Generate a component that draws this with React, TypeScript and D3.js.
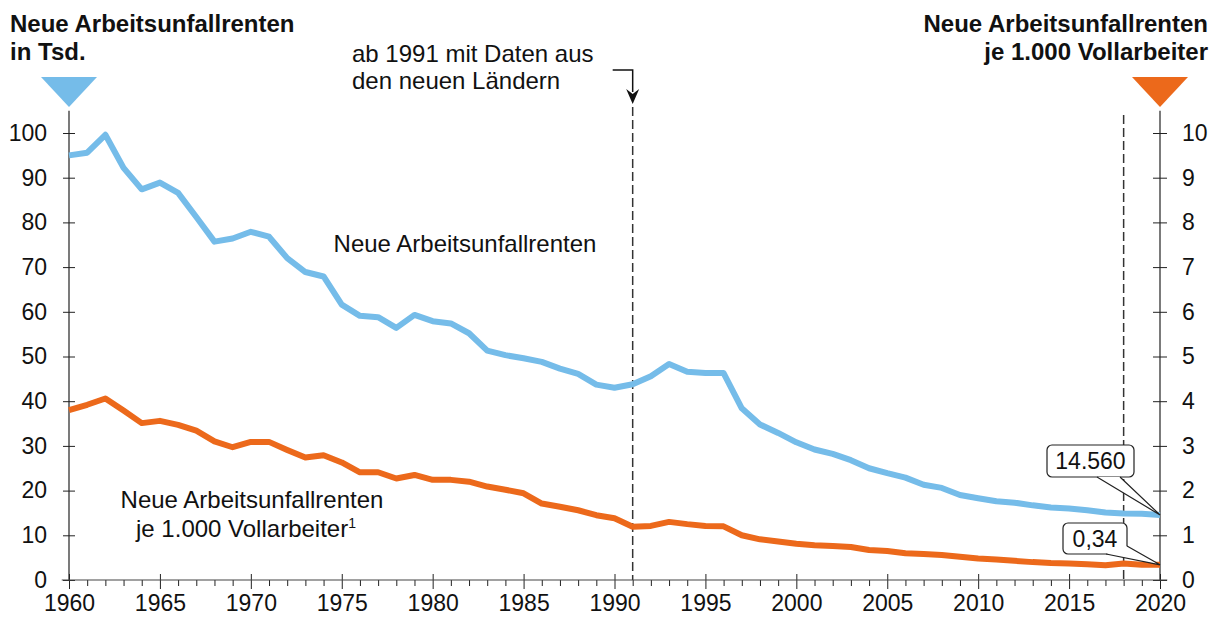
import React, { useEffect, useRef } from 'react';
import * as d3 from 'd3';

// years 1960..2020
const years = d3.range(1960, 2021);

// Neue Arbeitsunfallrenten in Tsd.
const renten = [
  95.0, 95.6, 99.6, 92.2, 87.4, 88.9, 86.6, 81.2, 75.7, 76.4,
  77.9, 76.8, 72.0, 68.9, 67.9, 61.6, 59.1, 58.8, 56.4, 59.3,
  57.9, 57.4, 55.2, 51.3, 50.3, 49.6, 48.8, 47.3, 46.1, 43.7,
  43.0, 43.8, 45.6, 48.3, 46.6, 46.3, 46.3, 38.4, 34.8, 32.9,
  30.8, 29.2, 28.2, 26.8, 25.0, 23.9, 22.9, 21.3, 20.6, 19.0,
  18.3, 17.6, 17.3, 16.7, 16.2, 16.0, 15.6, 15.1, 14.9, 14.8,
  14.56,
];

// Neue Arbeitsunfallrenten je 1.000 Vollarbeiter
const jeTausend = [
  3.80, 3.92, 4.06, 3.79, 3.51, 3.56, 3.47, 3.34, 3.10, 2.97,
  3.09, 3.09, 2.91, 2.74, 2.79, 2.63, 2.41, 2.41, 2.27, 2.35,
  2.24, 2.24, 2.20, 2.09, 2.02, 1.94, 1.71, 1.64, 1.56, 1.45,
  1.38, 1.19, 1.21, 1.30, 1.25, 1.21, 1.20, 1.00, 0.91, 0.86,
  0.81, 0.78, 0.76, 0.74, 0.67, 0.65, 0.60, 0.58, 0.56, 0.52,
  0.48, 0.46, 0.43, 0.40, 0.38, 0.37, 0.35, 0.33, 0.37, 0.34,
  0.34,
];

const leftTicks = [0, 10, 20, 30, 40, 50, 60, 70, 80, 90, 100];
const rightTicks = [0, 1, 2, 3, 4, 5, 6, 7, 8, 9, 10];
const yearLabels = [1960, 1965, 1970, 1975, 1980, 1985, 1990, 1995, 2000, 2005, 2010, 2015, 2020];
const dashedYears = [1991, 2018];

const BLUE = '#75bce9';
const ORANGE = '#ec691b';
const FONT = '"Liberation Sans", Arial, sans-serif';

const App = () => {
  const svgRef = useRef<SVGSVGElement | null>(null);

  useEffect(() => {
    document.body.style.margin = '0';
    const svg = d3.select(svgRef.current);
    svg.selectAll('*').remove();

    const x = d3.scaleLinear().domain([1960, 2020]).range([69, 1160]);
    const yL = d3.scaleLinear().domain([0, 100]).range([580, 133]);
    const yR = d3.scaleLinear().domain([0, 10]).range([580, 133]);

    const g = svg.append('g').style('font-family', FONT);

    // dashed marker lines
    g.selectAll('.dash')
      .data(dashedYears)
      .join('line')
      .attr('x1', d => x(d))
      .attr('x2', d => x(d))
      .attr('y1', (d, i) => (i === 0 ? 107 : 115))
      .attr('y2', yL(0))
      .attr('stroke', '#333')
      .attr('stroke-width', 1.5)
      .attr('stroke-dasharray', '9,4');

    // left axis
    const left = g.append('g')
      .attr('transform', `translate(${x(1960)},0)`)
      .call(d3.axisLeft(yL).tickValues(leftTicks).tickSize(6).tickPadding(16));
    left.select('.domain').remove();
    left.selectAll('.tick line').attr('x1', -6).attr('x2', 6).attr('stroke', '#222');
    left.selectAll('.tick text').style('font-size', '23px').style('font-family', FONT).attr('fill', '#111');
    left.append('line').attr('y1', yL(105)).attr('y2', yL(0)).attr('stroke', '#222').attr('stroke-width', 1.2);

    // right axis
    const right = g.append('g')
      .attr('transform', `translate(${x(2020)},0)`)
      .call(d3.axisRight(yR).tickValues(rightTicks).tickSize(7).tickPadding(15));
    right.select('.domain').remove();
    right.selectAll('.tick line').attr('x1', -7).attr('x2', 7).attr('stroke', '#222');
    right.selectAll('.tick text').style('font-size', '23px').style('font-family', FONT).attr('fill', '#111');
    right.append('line').attr('y1', yR(10.5)).attr('y2', yR(0)).attr('stroke', '#222').attr('stroke-width', 1.2);

    // bottom axis
    const bottom = g.append('g')
      .attr('transform', `translate(0,${yL(0)})`)
      .call(d3.axisBottom(x).tickValues(years).tickSize(6).tickPadding(9)
        .tickFormat(d => (yearLabels.includes(+d) ? String(d) : '')));
    bottom.select('.domain').remove();
    bottom.selectAll('.tick line')
      .attr('y1', (d: any) => (yearLabels.includes(d) ? -6 : 0))
      .attr('y2', (d: any) => (yearLabels.includes(d) ? 9 : 6))
      .attr('stroke', '#222');
    bottom.selectAll('.tick text').style('font-size', '23px').style('font-family', FONT).attr('fill', '#111');
    bottom.append('line').attr('x1', x(1959.6)).attr('x2', x(2020.4)).attr('stroke', '#444').attr('stroke-width', 1.2);

    // lines
    const blueLine = d3.line<number>().x((d, i) => x(years[i])).y(d => yL(d));
    const orangeLine = d3.line<number>().x((d, i) => x(years[i])).y(d => yR(d));

    g.append('path').datum(renten).attr('d', blueLine)
      .attr('fill', 'none').attr('stroke', BLUE).attr('stroke-width', 6).attr('stroke-linejoin', 'round');
    g.append('path').datum(jeTausend).attr('d', orangeLine)
      .attr('fill', 'none').attr('stroke', ORANGE).attr('stroke-width', 6).attr('stroke-linejoin', 'round');

    // axis markers (triangles)
    const tri = (cx: number, color: string) =>
      g.append('path').attr('d', `M${cx - 28},77 L${cx + 28},77 L${cx},107 Z`).attr('fill', color);
    tri(x(1960), BLUE);
    tri(x(2020), ORANGE);

    // titles
    const leftTitle = g.append('text').attr('x', 10).style('font-size', '24px').style('font-weight', 'bold').attr('fill', '#111');
    leftTitle.append('tspan').attr('x', 10).attr('y', 32).text('Neue Arbeitsunfallrenten');
    leftTitle.append('tspan').attr('x', 10).attr('y', 60).text('in Tsd.');
    const rightTitle = g.append('text').attr('text-anchor', 'end').style('font-size', '24px').style('font-weight', 'bold').attr('fill', '#111');
    rightTitle.append('tspan').attr('x', 1208).attr('y', 32).text('Neue Arbeitsunfallrenten');
    rightTitle.append('tspan').attr('x', 1208).attr('y', 60).text('je 1.000 Vollarbeiter');

    // annotation 1991
    const note = g.append('text').style('font-size', '24px').attr('fill', '#111');
    note.append('tspan').attr('x', 352).attr('y', 62).text('ab 1991 mit Daten aus');
    note.append('tspan').attr('x', 352).attr('y', 89).text('den neuen Ländern');
    const ax = x(1991);
    g.append('path').attr('d', `M${ax - 20},70 L${ax},70 L${ax},92`)
      .attr('fill', 'none').attr('stroke', '#111').attr('stroke-width', 1.5);
    g.append('path').attr('d', `M${ax - 6.5},89 L${ax},104 L${ax + 6.5},89 L${ax},94 Z`).attr('fill', '#111');

    // series labels
    g.append('text').attr('x', 465).attr('y', 252).attr('text-anchor', 'middle')
      .style('font-size', '24px').attr('fill', '#111').text('Neue Arbeitsunfallrenten');
    const ol = g.append('text').attr('text-anchor', 'middle').style('font-size', '24px').attr('fill', '#111');
    ol.append('tspan').attr('x', 252).attr('y', 508).text('Neue Arbeitsunfallrenten');
    const l2 = ol.append('tspan').attr('x', 246).attr('y', 537).text('je 1.000 Vollarbeiter');
    l2.append('tspan').attr('dy', -9).style('font-size', '14px').text('1');

    // callouts
    const callout = (bx: number, by: number, bw: number, bh: number,
      p1: [number, number], p2: [number, number], tip: [number, number], label: string) => {
      g.append('rect').attr('x', bx).attr('y', by).attr('width', bw).attr('height', bh)
        .attr('rx', 5).attr('fill', '#fff').attr('stroke', '#222').attr('stroke-width', 1.2);
      g.append('path').attr('d', `M${p1[0]},${p1[1]} L${tip[0]},${tip[1]} L${p2[0]},${p2[1]} Z`)
        .attr('fill', '#fff');
      g.append('path').attr('d', `M${p1[0]},${p1[1]} L${tip[0]},${tip[1]} L${p2[0]},${p2[1]}`)
        .attr('fill', 'none').attr('stroke', '#222').attr('stroke-width', 1.2);
      g.append('text').attr('x', bx + bw / 2).attr('y', by + bh / 2 + 8).attr('text-anchor', 'middle')
        .style('font-size', '23px').attr('fill', '#111').text(label);
    };
    const last = years.length - 1;
    callout(1047, 445, 87, 32, [1097, 477], [1120, 477], [x(years[last]), yL(renten[last])], '14.560');
    callout(1063, 523, 64, 31, [1106, 554], [1127, 546], [x(years[last]), yR(jeTausend[last])], '0,34');
  }, []);

  return <svg ref={svgRef} width={1210} height={617} style={{ display: 'block', background: '#fff' }} />;
};

export default App;
